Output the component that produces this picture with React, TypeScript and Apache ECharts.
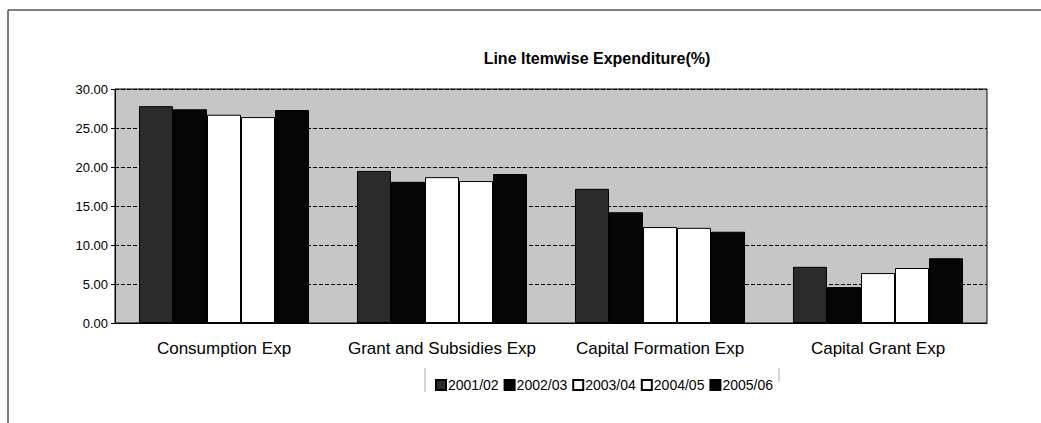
import React, { useEffect, useRef } from "react";
import * as echarts from "echarts";

const categories = ["Consumption Exp", "Grant and Subsidies Exp", "Capital Formation Exp", "Capital Grant Exp"];
const years = ["2001/02", "2002/03", "2003/04", "2004/05", "2005/06"];
const v2001 = [27.8, 19.5, 17.2, 7.2];
const v2002 = [27.4, 18.1, 14.2, 4.6];
const v2003 = [26.7, 18.7, 12.3, 6.4];
const v2004 = [26.4, 18.2, 12.2, 7.05];
const v2005 = [27.3, 19.1, 11.7, 8.3];
const seriesValues = [v2001, v2002, v2003, v2004, v2005];
const fills = ["#2b2b2b", "#050505", "#ffffff", "#ffffff", "#050505"];

export default function App() {
  const ref = useRef<HTMLDivElement>(null);
  useEffect(() => {
    if (!ref.current) return;
    const chart = echarts.init(ref.current, null, { renderer: "svg" });
    const font = "'Liberation Sans', Arial, sans-serif";
    chart.setOption({
      animation: false,
      backgroundColor: "#ffffff",
      title: {
        text: "Line Itemwise Expenditure(%)",
        left: 592,
        textAlign: "center",
        top: 45,
        textStyle: { fontFamily: font, fontSize: 16, fontWeight: "bold", color: "#000" },
      },
      legend: {
        data: years,
        left: 430,
        top: 373,
        itemWidth: 10,
        itemHeight: 10,
        itemGap: 5,
        icon: "rect",
        textStyle: { fontFamily: font, fontSize: 14, color: "#000", padding: [0, 0, 0, -3] },
      },
      grid: {
        left: 115,
        right: 54,
        top: 89,
        bottom: 100,
        show: true,
        backgroundColor: "#c6c6c6",
        borderColor: "#000",
        borderWidth: 1,
      },
      xAxis: {
        type: "category",
        data: categories,
        axisTick: { show: false },
        axisLine: { lineStyle: { color: "#000", width: 1 } },
        axisLabel: { fontFamily: font, fontSize: 17, color: "#000", margin: 17, interval: 0 },
      },
      yAxis: {
        type: "value",
        min: 0,
        max: 30,
        interval: 5,
        axisLine: { show: true, lineStyle: { color: "#000" } },
        axisTick: { show: true, length: 4, inside: false, lineStyle: { color: "#000" } },
        axisLabel: { fontFamily: font, fontSize: 13, color: "#000", margin: 7, formatter: (v: number) => v.toFixed(2) },
        splitLine: { show: true, lineStyle: { color: "#000", type: [4, 2], width: 1 } },
      },
      series: years.map((y, i) => ({
        name: y,
        type: "bar",
        data: seriesValues[i],
        barGap: "0%",
        barCategoryGap: "22%",
        itemStyle: { color: fills[i], borderColor: "#000", borderWidth: 1 },
      })),
      graphic: [
        { type: "line", shape: { x1: 8, y1: 10, x2: 1041, y2: 10 }, style: { stroke: "#000", lineWidth: 1 } },
        { type: "line", shape: { x1: 8, y1: 10, x2: 8, y2: 423 }, style: { stroke: "#000", lineWidth: 1 } },
        { type: "line", shape: { x1: 425, y1: 368, x2: 425, y2: 392 }, style: { stroke: "#aaa", lineWidth: 1 } },
        { type: "line", shape: { x1: 779, y1: 368, x2: 779, y2: 382 }, style: { stroke: "#aaa", lineWidth: 1 } },
      ],
    });
    return () => chart.dispose();
  }, []);
  return <div ref={ref} style={{ width: 1041, height: 423, position: "absolute", left: 0, top: 0 }} />;
}
